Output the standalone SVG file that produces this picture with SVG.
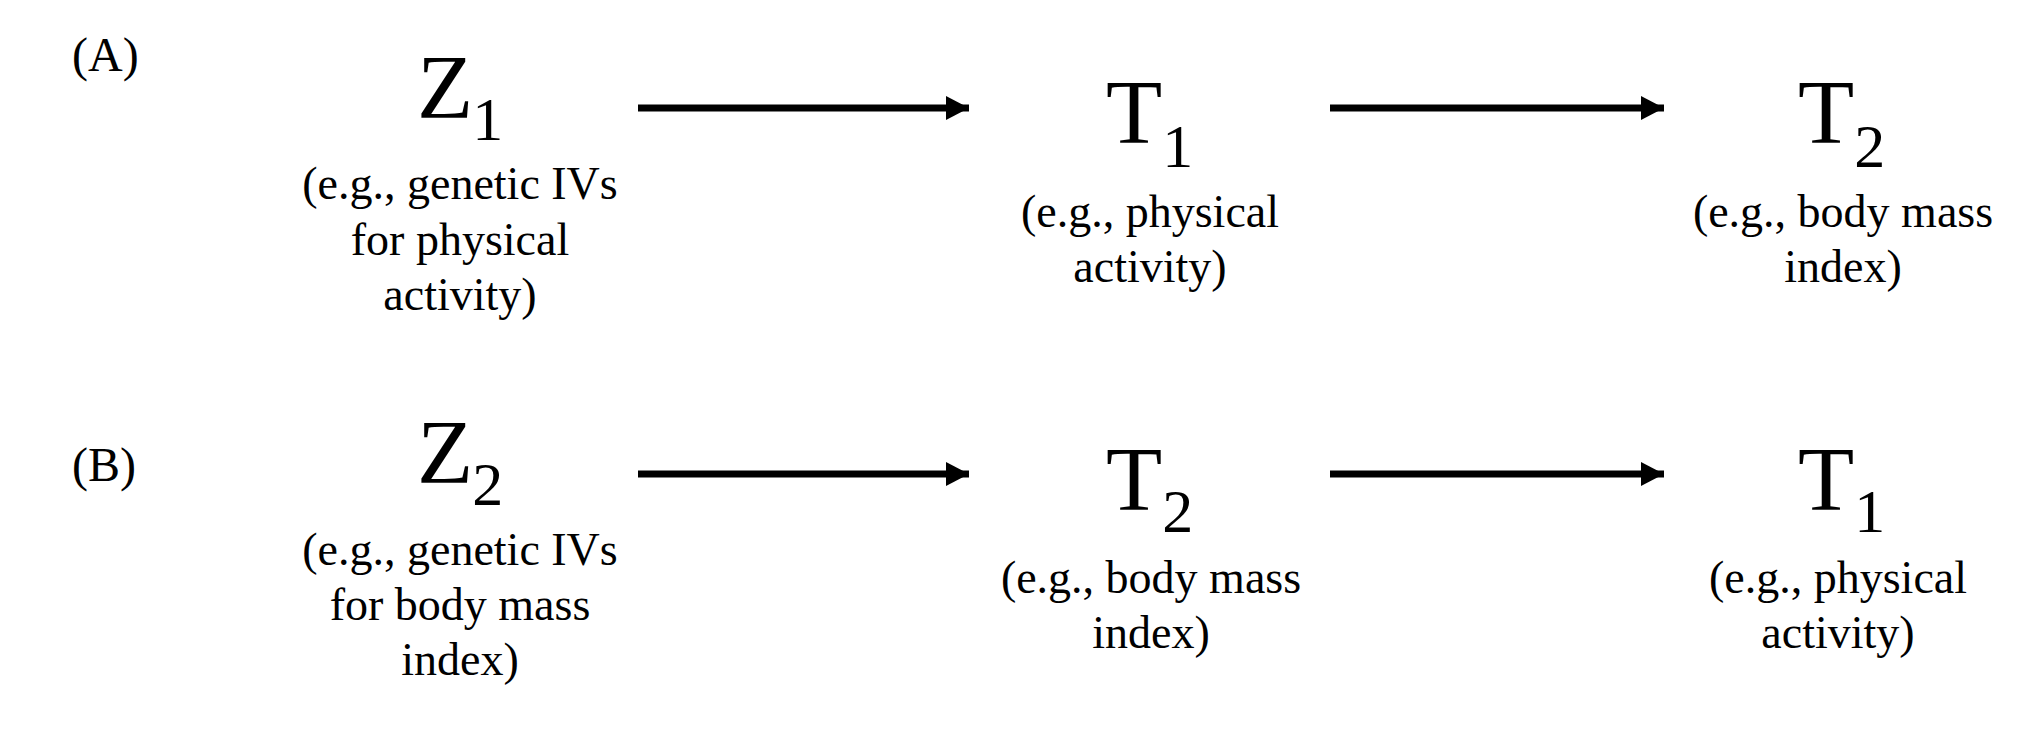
<svg xmlns="http://www.w3.org/2000/svg" width="2034" height="754" viewBox="0 0 2034 754">
<style>
text{font-family:"Liberation Serif","Times New Roman",serif;fill:#000}
.lab{font-size:48px}
.big{font-size:92px}
.sub{font-size:62px}
.desc{font-size:46px;text-anchor:middle}
.arr{stroke:#000;stroke-width:7;fill:none}
</style>
<defs>
<marker id="ah" markerUnits="userSpaceOnUse" markerWidth="26" markerHeight="26" refX="23" refY="12" orient="auto" viewBox="0 0 26 26">
<path d="M0,0 L23,12 L0,24 Z" fill="#000"/>
</marker>
</defs>
<rect width="2034" height="754" fill="#fff"/>
<g id="labelA"><text class="lab" x="72" y="71">(A)</text></g>
<g id="labelB"><text class="lab" x="72" y="481">(B)</text></g>
<g id="Z1">
<text class="big" x="417" y="118">Z<tspan class="sub" dx="-1" dy="22">1</tspan></text>
<text class="desc" x="460" y="199">(e.g., genetic IVs</text>
<text class="desc" x="460" y="255">for physical</text>
<text class="desc" x="460" y="310">activity)</text>
</g>
<g id="T1a">
<text class="big" x="1106" y="143">T<tspan class="sub" dy="24">1</tspan></text>
<text class="desc" x="1150" y="227">(e.g., physical</text>
<text class="desc" x="1150" y="282">activity)</text>
</g>
<g id="T2a">
<text class="big" x="1798" y="143">T<tspan class="sub" dy="24">2</tspan></text>
<text class="desc" x="1843" y="227">(e.g., body mass</text>
<text class="desc" x="1843" y="282">index)</text>
</g>
<g id="Z2">
<text class="big" x="417" y="483">Z<tspan class="sub" dx="-1" dy="22">2</tspan></text>
<text class="desc" x="460" y="565">(e.g., genetic IVs</text>
<text class="desc" x="460" y="620">for body mass</text>
<text class="desc" x="460" y="675">index)</text>
</g>
<g id="T2b">
<text class="big" x="1106" y="510">T<tspan class="sub" dy="22">2</tspan></text>
<text class="desc" x="1151" y="593">(e.g., body mass</text>
<text class="desc" x="1151" y="648">index)</text>
</g>
<g id="T1b">
<text class="big" x="1798" y="510">T<tspan class="sub" dy="22">1</tspan></text>
<text class="desc" x="1838" y="593">(e.g., physical</text>
<text class="desc" x="1838" y="648">activity)</text>
</g>
<g id="connectors">
<line class="arr" x1="638" y1="108" x2="969" y2="108" marker-end="url(#ah)"/>
<line class="arr" x1="1330" y1="108" x2="1664" y2="108" marker-end="url(#ah)"/>
<line class="arr" x1="638" y1="474" x2="969" y2="474" marker-end="url(#ah)"/>
<line class="arr" x1="1330" y1="474" x2="1664" y2="474" marker-end="url(#ah)"/>
</g>
</svg>
